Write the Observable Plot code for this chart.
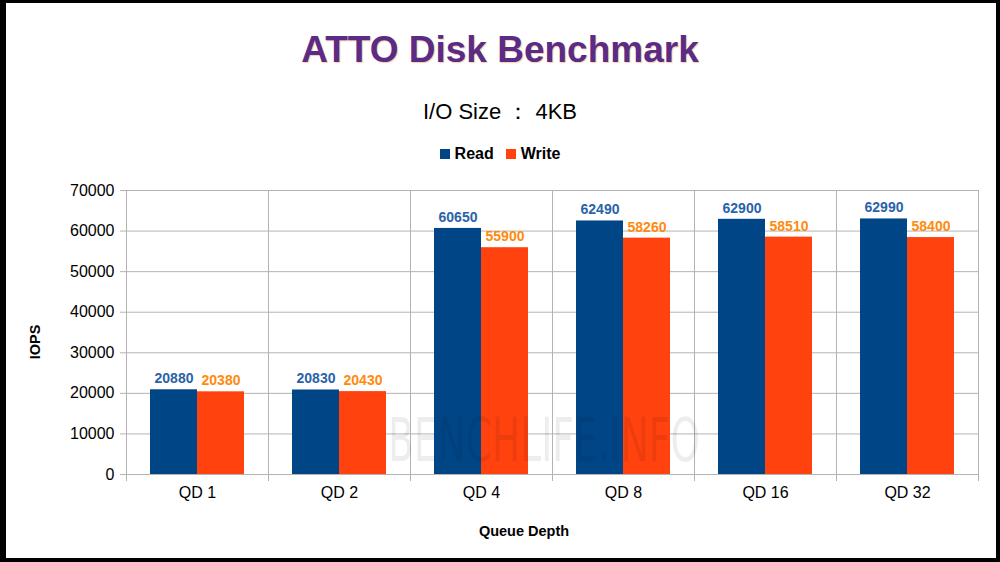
<!DOCTYPE html>
<html>
<head>
<meta charset="utf-8">
<script src="https://cdn.jsdelivr.net/npm/d3@7"></script>
<script src="https://cdn.jsdelivr.net/npm/@observablehq/plot@0.6"></script>
<style>
  html, body { margin: 0; padding: 0; background: #fff; }
  #wrap { position: relative; width: 1000px; height: 562px; overflow: hidden; font-family: "Liberation Sans", Arial, sans-serif; background: #fff; }
  .abs { position: absolute; left: 0; width: 1000px; text-align: center; white-space: nowrap; }
  #title { top: 31px; font-size: 37px; line-height: 37px; font-weight: bold; color: #5b2b86; text-shadow: 1px 1px 1px rgba(230,170,110,0.55); }
  #subtitle { top: 101px; font-size: 22px; line-height: 22px; color: #000; }
  #legend { top: 146px; height: 16px; display: flex; justify-content: center; align-items: center; font-size: 16px; line-height: 16px; font-weight: bold; color: #000; }
  #legend .item { display: flex; align-items: center; margin: 0 6px; }
  #legend .sw { width: 10px; height: 10px; margin-right: 5px; }
  #ylab { position: absolute; left: 35px; top: 342px; transform: translate(-50%, -50%) rotate(-90deg); font-size: 14.5px; font-weight: bold; white-space: nowrap; }
  #xlab { top: 524px; left: 24px; font-size: 14.5px; line-height: 15px; font-weight: bold; }
  #chart { position: absolute; left: 0; top: 0; }
  #wm { position: absolute; left: 0; top: 0; pointer-events: none; }
  #border { position: absolute; left: 0; top: 0; width: 1000px; height: 562px; box-sizing: border-box; border-style: solid; border-color: #000; border-width: 3px 4px 4px 6px; pointer-events: none; }
</style>
</head>
<body>
<div id="wrap">
  <div id="chart"></div>
  <div id="title" class="abs">ATTO Disk Benchmark</div>
  <div id="subtitle" class="abs">I/O Size ： 4KB</div>
  <div id="legend" class="abs"></div>
  <div id="ylab">IOPS</div>
  <div id="xlab" class="abs">Queue Depth</div>
  <svg id="wm" width="1000" height="562">
    <text x="388" y="461" textLength="312" lengthAdjust="spacingAndGlyphs" font-family="Liberation Sans Narrow, DejaVu Sans Condensed, sans-serif" font-size="60" fill="#000" fill-opacity="0.07">BENCHLIFE.INFO</text>
  </svg>
  <div id="border"></div>
</div>
<script>
const categories = ["QD 1", "QD 2", "QD 4", "QD 8", "QD 16", "QD 32"];
const series = ["Read", "Write"];
const readValues = [20880, 20830, 60650, 62490, 62900, 62990];
const writeValues = [20380, 20430, 55900, 58260, 58510, 58400];
const yTicks = [0, 10000, 20000, 30000, 40000, 50000, 60000, 70000];
const barColors = ["#004586", "#ff420e"];
const labelColors = ["#2a63a8", "#ff8a0e"];

const data = [];
categories.forEach((c, i) => {
  data.push({qd: c, series: "Read", value: readValues[i]});
  data.push({qd: c, series: "Write", value: writeValues[i]});
});
const labelColor = new Map(series.map((s, i) => [s, labelColors[i]]));

// legend
const legend = document.getElementById("legend");
series.forEach((s, i) => {
  const it = document.createElement("div");
  it.className = "item";
  it.innerHTML = `<span class="sw" style="background:${barColors[i]}"></span><span>${s}</span>`;
  legend.appendChild(it);
});

const grid = "#b3b3b3";
const chart = Plot.plot({
  width: 1000,
  height: 562,
  marginTop: 190,
  marginBottom: 88,
  marginLeft: 124,
  marginRight: 20,
  style: {fontFamily: "Liberation Sans, Arial, sans-serif", background: "transparent", overflow: "visible"},
  fx: {domain: categories, padding: 0, label: null},
  x: {domain: series, paddingInner: 0, paddingOuter: 0.5, axis: null},
  y: {domain: [0, 70000], label: null},
  color: {domain: series, range: barColors},
  marks: [
    Plot.gridY(yTicks, {stroke: grid, strokeOpacity: 1}),
    Plot.frame({stroke: grid, strokeOpacity: 1}),
    Plot.frame({anchor: "left", stroke: grid, strokeOpacity: 1, insetBottom: -6}),
    Plot.frame({anchor: "right", stroke: grid, strokeOpacity: 1, insetBottom: -6}),
    Plot.axisY(yTicks, {tickSize: 6, tickPadding: 6, fontSize: 16, stroke: grid, fill: "#000", label: null, tickFormat: d => String(d)}),
    Plot.axisFx({anchor: "bottom", tickSize: 0, tickPadding: 12, fontSize: 16, fill: "#000", label: null}),
    Plot.barY(data, {fx: "qd", x: "series", y: "value", fill: "series"}),
    Plot.text(data, {fx: "qd", x: "series", y: "value", text: d => String(d.value), fill: d => labelColor.get(d.series), fontSize: 14, fontWeight: "bold", dy: -11})
  ]
});
document.getElementById("chart").appendChild(chart);
</script>
</body>
</html>
